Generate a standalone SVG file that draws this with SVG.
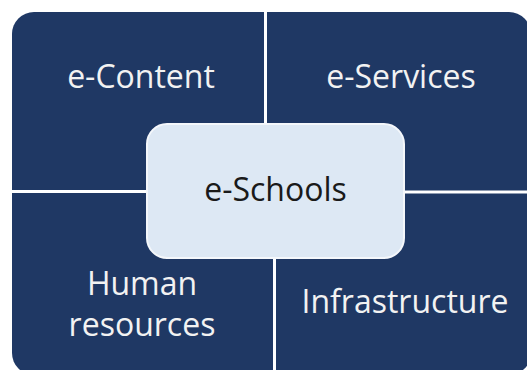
<svg xmlns="http://www.w3.org/2000/svg" width="527" height="370" viewBox="0 0 527 370">
<style>
.quad{fill:#1f3864;}
.lbl{font-family:"Open Sans","Noto Sans","Liberation Sans",sans-serif;font-size:32px;fill:#f2f2f2;text-anchor:middle;}
.hub{fill:#dde8f4;stroke:#f4f7fb;stroke-width:2;}
.hublbl{font-family:"Open Sans","Noto Sans","Liberation Sans",sans-serif;font-size:32px;fill:#1a1a1a;text-anchor:middle;}
</style>
<rect width="527" height="370" fill="#ffffff"/>
<g id="e-content">
<path class="quad" d="M12,34 A22,22 0 0 1 34,12 L264,12 L264,190 L12,190 Z"/>
<text class="lbl" x="141" y="88">e-Content</text>
</g>
<g id="e-services">
<path class="quad" d="M267,12 L509,12 A22,22 0 0 1 531,34 L531,190.5 L267,190.5 Z"/>
<text class="lbl" x="401" y="88">e-Services</text>
</g>
<g id="human-resources">
<path class="quad" d="M12,193 L273,193 L273,375 L34,375 A22,22 0 0 1 12,353 Z"/>
<text class="lbl" x="142" y="295">Human</text>
<text class="lbl" x="142" y="336">resources</text>
</g>
<g id="infrastructure">
<path class="quad" d="M276,193.5 L531,193.5 L531,353 A22,22 0 0 1 509,375 L276,375 Z"/>
<text class="lbl" x="405" y="313">Infrastructure</text>
</g>
<g id="e-schools">
<rect class="hub" x="147" y="124" width="257" height="134" rx="20" ry="20"/>
<text class="hublbl" x="275.5" y="201">e-Schools</text>
</g>
</svg>
